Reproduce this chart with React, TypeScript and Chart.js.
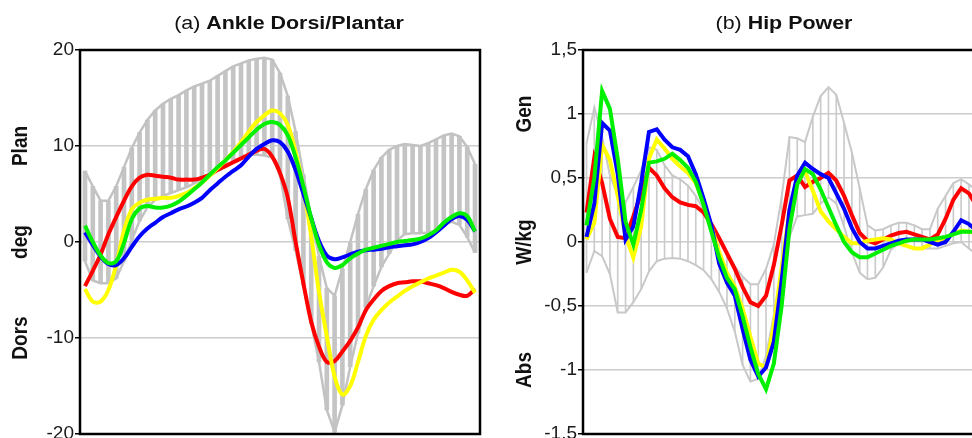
import React, { useEffect, useRef } from "react";
import { Chart, registerables } from "chart.js";

Chart.register(...registerables);

// ---------- data ----------
const GAIT_PCT = [0, 2, 4, 6, 8, 10, 12, 14, 16, 18, 20, 22, 24, 26, 28, 30, 32, 34, 36, 38, 40, 42, 44, 46, 48, 50, 52, 54, 56, 58, 60, 62, 64, 66, 68, 70, 72, 74, 76, 78, 80, 82, 84, 86, 88, 90, 92, 94, 96, 98, 100];

const ANKLE_TICKS = [-20, -10, 0, 10, 20];
const ANKLE_WORD_VALUES = [10, 0, -10];
const ANKLE_WORDS = ["Plan", "deg", "Dors"];

const ANKLE_UPPER = [7.4, 5.8, 4.3, 4.3, 5.8, 7.8, 9.8, 11.4, 12.7, 13.7, 14.4, 14.9, 15.3, 15.8, 16.2, 16.5, 16.8, 17.3, 17.8, 18.3, 18.6, 18.9, 19.1, 19.2, 19.0, 17.6, 15.2, 11.5, 7.0, 2.5, -1.5, -4.8, -5.6, -2.8, 0.0, 2.9, 5.5, 7.5, 8.8, 9.6, 10.0, 10.2, 10.1, 10.0, 10.3, 10.7, 11.1, 11.3, 11.0, 9.9, 8.1];
const ANKLE_LOWER = [-2.0, -4.0, -4.3, -4.3, -3.8, -2.0, 0.2, 2.2, 3.6, 4.4, 4.8, 5.1, 5.4, 5.7, 6.1, 6.5, 7.0, 7.5, 8.0, 8.4, 8.8, 9.1, 9.1, 9.0, 8.8, 7.0, 2.4, -0.9, -4.5, -8.5, -12.5, -17.5, -19.8, -17.0, -13.0, -9.5, -6.8, -4.6, -2.6, -1.2, 0.2, 0.8, 0.9, 0.9, 1.0, 1.2, 1.8, 2.1, 1.8, 0.5, -1.1];
const ANKLE_RED = [-4.6, -3.0, -1.3, 0.8, 2.6, 4.3, 5.8, 6.7, 7.0, 6.9, 6.8, 6.7, 6.5, 6.5, 6.5, 6.7, 7.0, 7.5, 7.9, 8.3, 8.7, 9.1, 9.5, 9.7, 8.9, 7.2, 4.6, 0.0, -4.3, -8.3, -10.9, -12.5, -12.4, -11.4, -10.3, -8.9, -7.1, -6.0, -5.1, -4.6, -4.3, -4.2, -4.1, -4.1, -4.3, -4.5, -4.8, -5.2, -5.5, -5.6, -4.9];
const ANKLE_YELLOW = [-4.9, -6.2, -6.2, -5.0, -2.4, 1.2, 3.4, 4.1, 4.4, 4.5, 4.6, 4.6, 4.8, 5.1, 5.6, 6.2, 6.9, 7.7, 8.5, 9.4, 10.4, 11.5, 12.5, 13.2, 13.7, 13.4, 12.2, 9.4, 5.6, 0.6, -5.2, -9.8, -14.0, -15.9, -15.0, -12.5, -9.8, -8.1, -7.1, -6.3, -5.7, -5.1, -4.6, -4.2, -3.8, -3.5, -3.2, -2.9, -3.1, -4.0, -5.3];
const ANKLE_GREEN = [1.7, 0.0, -1.4, -2.2, -2.0, -0.1, 2.4, 3.5, 3.75, 3.6, 3.6, 3.8, 4.2, 4.8, 5.5, 6.2, 7.0, 7.8, 8.5, 9.3, 10.1, 10.9, 11.7, 12.3, 12.5, 12.2, 11.1, 8.8, 5.8, 2.5, -0.3, -2.1, -2.7, -2.4, -1.7, -1.2, -0.8, -0.6, -0.4, -0.2, 0.0, 0.1, 0.2, 0.35, 0.7, 1.2, 2.0, 2.6, 3.0, 2.7, 1.1];
const ANKLE_BLUE = [1.0, -0.3, -1.5, -2.3, -2.4, -1.7, -0.5, 0.6, 1.4, 2.0, 2.6, 3.0, 3.4, 3.7, 4.1, 4.6, 5.4, 6.1, 6.8, 7.4, 8.0, 8.9, 9.7, 10.2, 10.6, 10.4, 9.4, 7.5, 5.0, 2.5, 0.1, -1.4, -1.8, -1.6, -1.3, -1.0, -0.85, -0.8, -0.7, -0.55, -0.45, -0.35, -0.25, 0.0, 0.4, 1.0, 1.7, 2.4, 2.7, 2.3, 1.1];

const HIP_TICKS = [-1.5, -1, -0.5, 0, 0.5, 1, 1.5];
const HIP_WORD_VALUES = [1, 0, -1];
const HIP_WORDS = ["Gen", "W/kg", "Abs"];

const HIP_UPPER = [0.77, 1.05, 0.82, 0.52, 0.36, 0.31, 0.43, 0.56, 0.74, 0.72, 0.60, 0.52, 0.49, 0.44, 0.36, 0.25, 0.14, 0.03, -0.09, -0.19, -0.27, -0.33, -0.33, -0.21, -0.02, 0.35, 0.82, 0.81, 0.78, 0.98, 1.14, 1.21, 1.15, 0.93, 0.70, 0.42, 0.13, 0.09, 0.10, 0.13, 0.15, 0.15, 0.13, 0.10, 0.10, 0.26, 0.36, 0.46, 0.49, 0.45, 0.40];
const HIP_LOWER = [-0.24, -0.07, -0.11, -0.25, -0.55, -0.55, -0.47, -0.37, -0.23, -0.15, -0.13, -0.125, -0.13, -0.15, -0.18, -0.22, -0.29, -0.39, -0.52, -0.70, -0.96, -1.09, -1.07, -0.89, -0.57, -0.22, 0.04, 0.20, 0.21, 0.22, 0.30, 0.35, 0.30, 0.12, -0.08, -0.24, -0.29, -0.28, -0.20, -0.06, -0.01, -0.03, -0.05, -0.05, -0.05, -0.05, -0.03, -0.01, 0.00, -0.05, -0.10];
const HIP_RED = [0.23, 0.66, 0.46, 0.18, 0.04, 0.03, 0.20, 0.38, 0.58, 0.52, 0.42, 0.35, 0.31, 0.29, 0.28, 0.23, 0.14, 0.03, -0.09, -0.21, -0.35, -0.47, -0.50, -0.42, -0.18, 0.13, 0.48, 0.52, 0.43, 0.47, 0.50, 0.54, 0.48, 0.36, 0.21, 0.07, 0.01, -0.01, 0.02, 0.05, 0.07, 0.08, 0.06, 0.04, 0.02, 0.06, 0.18, 0.33, 0.42, 0.38, 0.28];
const HIP_YELLOW = [0.02, 0.15, 0.76, 0.64, 0.36, 0.05, -0.12, 0.12, 0.65, 0.80, 0.73, 0.65, 0.59, 0.54, 0.46, 0.31, 0.12, -0.08, -0.24, -0.35, -0.52, -0.74, -0.95, -0.98, -0.65, -0.20, 0.25, 0.48, 0.55, 0.40, 0.24, 0.16, 0.10, 0.04, -0.01, -0.01, 0.01, 0.02, 0.03, 0.02, -0.01, -0.03, -0.05, -0.05, -0.02, 0.01, 0.03, 0.06, 0.09, 0.08, 0.07];
const HIP_GREEN = [0.13, 0.50, 1.18, 1.04, 0.65, 0.16, -0.02, 0.25, 0.62, 0.63, 0.65, 0.69, 0.64, 0.58, 0.47, 0.29, 0.08, -0.12, -0.28, -0.37, -0.58, -0.82, -1.03, -1.15, -0.95, -0.50, 0.10, 0.45, 0.57, 0.53, 0.41, 0.27, 0.13, 0.00, -0.08, -0.12, -0.12, -0.09, -0.06, -0.03, -0.01, 0.01, 0.02, 0.02, 0.02, 0.03, 0.04, 0.06, 0.08, 0.08, 0.08];
const HIP_BLUE = [0.04, 0.30, 0.93, 0.87, 0.53, 0.02, 0.12, 0.46, 0.86, 0.88, 0.80, 0.74, 0.72, 0.67, 0.53, 0.34, 0.13, -0.17, -0.32, -0.42, -0.68, -0.92, -1.05, -0.98, -0.78, -0.30, 0.25, 0.52, 0.62, 0.57, 0.53, 0.50, 0.38, 0.26, 0.11, 0.00, -0.05, -0.05, -0.03, -0.01, 0.01, 0.02, 0.02, 0.02, 0.00, -0.02, 0.00, 0.08, 0.17, 0.14, 0.09];

// ---------- styling ----------
const FONT = '"Liberation Sans", Arial, Helvetica, sans-serif';
const RED = "#ff0000";
const YELLOW = "#ffff00";
const GREEN = "#00f000";
const BLUE = "#0000ff";
const TEXT_STRETCH = 1.19;

type PanelSpec = {
  prefix: string;
  title: string;
  titleDx: number;
  ticks: number[];
  yMin: number;
  yMax: number;
  words: string[];
  wordValues: number[];
  wordX: number;
  axisWidth: number;
  padRight: number;
  xMin: number;
  xMax: number;
  upper: number[];
  lower: number[];
  red: number[];
  yellow: number[];
  green: number[];
  blue: number[];
  lineWidth: number;
  tension: number;
  bandColor: string;
  bandWidth: number;
  hatchColor: string;
  hatchWidth: number;
  comma: boolean;
};

function decorPlugin(p: PanelSpec) {
  return {
    id: "decor",
    afterDraw(chart: any) {
      const { ctx, chartArea, scales } = chart;
      ctx.save();
      // frame
      ctx.strokeStyle = "#000";
      ctx.lineWidth = 2.5;
      ctx.strokeRect(
        chartArea.left,
        chartArea.top,
        chartArea.right - chartArea.left,
        chartArea.bottom - chartArea.top
      );
      // title (normal prefix + bold main text), slightly wide lettering
      ctx.fillStyle = "#111";
      ctx.textBaseline = "alphabetic";
      ctx.textAlign = "left";
      const normal = `18px ${FONT}`;
      const bold = `bold 18px ${FONT}`;
      ctx.font = normal;
      const w1 = ctx.measureText(p.prefix).width;
      ctx.font = bold;
      const w2 = ctx.measureText(p.title).width;
      const cx = (chartArea.left + chartArea.right) / 2 + p.titleDx;
      const x0 = cx - ((w1 + w2) * TEXT_STRETCH) / 2;
      ctx.save();
      ctx.translate(x0, 28.5);
      ctx.scale(TEXT_STRETCH, 1);
      ctx.font = normal;
      ctx.fillText(p.prefix, 0, 0);
      ctx.font = bold;
      ctx.fillText(p.title, w1, 0);
      ctx.restore();
      // rotated axis words
      ctx.font = `bold 19px ${FONT}`;
      ctx.textAlign = "center";
      ctx.textBaseline = "middle";
      p.words.forEach((w, i) => {
        const y = scales.y.getPixelForValue(p.wordValues[i]);
        ctx.save();
        ctx.translate(p.wordX, y);
        ctx.scale(1.15, 1);
        ctx.rotate(-Math.PI / 2);
        ctx.fillText(w, 0, 0);
        ctx.restore();
      });
      ctx.restore();
    },
  };
}

function makeConfig(p: PanelSpec): any {
  const pts = (arr: number[]) => GAIT_PCT.map((x, i) => ({ x, y: arr[i] }));
  const line = (label: string, arr: number[], color: string, order: number) => ({
    type: "line",
    label,
    data: pts(arr),
    borderColor: color,
    borderWidth: p.lineWidth,
    pointRadius: 0,
    tension: p.tension,
    fill: false,
    order,
  });
  return {
    type: "line",
    data: {
      datasets: [
        line("Green", p.green, GREEN, 0),
        line("Blue", p.blue, BLUE, 1),
        line("Yellow", p.yellow, YELLOW, 2),
        line("Red", p.red, RED, 3),
        {
          type: "line",
          label: "Upper",
          data: pts(p.upper),
          borderColor: p.bandColor,
          borderWidth: p.bandWidth,
          pointRadius: 0,
          tension: 0,
          fill: false,
          order: 4,
        },
        {
          type: "line",
          label: "Lower",
          data: pts(p.lower),
          borderColor: p.bandColor,
          borderWidth: p.bandWidth,
          pointRadius: 0,
          tension: 0,
          fill: false,
          order: 4,
        },
        {
          type: "bar",
          label: "Range",
          data: GAIT_PCT.map((x, i) => ({ x, y: [p.lower[i], p.upper[i]] })),
          backgroundColor: p.hatchColor,
          borderWidth: 0,
          barThickness: p.hatchWidth,
          grouped: false,
          order: 5,
        },
      ],
    },
    options: {
      responsive: false,
      animation: false,
      events: [],
      layout: { padding: { top: 50, bottom: 4, left: 0, right: p.padRight } },
      plugins: {
        legend: { display: false },
        tooltip: { enabled: false },
        title: { display: false },
      },
      scales: {
        x: {
          type: "linear",
          display: false,
          min: p.xMin,
          max: p.xMax,
          offset: false,
          grid: { display: false, offset: false },
        },
        y: {
          type: "linear",
          min: p.yMin,
          max: p.yMax,
          afterBuildTicks: (scale: any) => {
            scale.ticks = p.ticks.map((value) => ({ value }));
          },
          afterFit: (scale: any) => {
            scale.width = p.axisWidth;
            scale.paddingTop = 0;
            scale.paddingBottom = 0;
          },
          border: { display: false },
          grid: {
            color: "#cccccc",
            lineWidth: 1.5,
            drawTicks: true,
            tickLength: 5,
            tickColor: "#000",
            tickWidth: 1.5,
          },
          ticks: {
            padding: 1,
            color: "#1a1a1a",
            font: { family: FONT, size: 19 },
            callback: (v: any) => (p.comma ? String(v).replace(".", ",") : String(v)),
          },
        },
      },
    },
    plugins: [decorPlugin(p)],
  };
}

const ANKLE_SPEC: PanelSpec = {
  prefix: "(a) ",
  title: "Ankle Dorsi/Plantar",
  titleDx: 9,
  ticks: ANKLE_TICKS,
  yMin: -20,
  yMax: 20,
  words: ANKLE_WORDS,
  wordValues: ANKLE_WORD_VALUES,
  wordX: 21,
  axisWidth: 80,
  padRight: 6,
  xMin: -1.28,
  xMax: 101.28,
  upper: ANKLE_UPPER,
  lower: ANKLE_LOWER,
  red: ANKLE_RED,
  yellow: ANKLE_YELLOW,
  green: ANKLE_GREEN,
  blue: ANKLE_BLUE,
  lineWidth: 4,
  tension: 0.35,
  bandColor: "#c2c2c2",
  bandWidth: 2.5,
  hatchColor: "#c4c4c4",
  hatchWidth: 4,
  comma: false,
};

const HIP_SPEC: PanelSpec = {
  prefix: "(b) ",
  title: "Hip Power",
  titleDx: 1,
  ticks: HIP_TICKS,
  yMin: -1.5,
  yMax: 1.5,
  words: HIP_WORDS,
  wordValues: HIP_WORD_VALUES,
  wordX: 38.5,
  axisWidth: 97,
  padRight: 3,
  xMin: -0.9,
  xMax: 101.6,
  upper: HIP_UPPER,
  lower: HIP_LOWER,
  red: HIP_RED,
  yellow: HIP_YELLOW,
  green: HIP_GREEN,
  blue: HIP_BLUE,
  lineWidth: 4,
  tension: 0,
  bandColor: "#c8c8c8",
  bandWidth: 2,
  hatchColor: "#cbcbcb",
  hatchWidth: 1,
  comma: true,
};

function Panel({ spec, left, width }: { spec: PanelSpec; left: number; width: number }) {
  const ref = useRef<HTMLCanvasElement | null>(null);
  useEffect(() => {
    if (!ref.current) return;
    const chart = new Chart(ref.current, makeConfig(spec));
    return () => chart.destroy();
  }, [spec]);
  return (
    <canvas
      ref={ref}
      width={width}
      height={438}
      style={{ position: "absolute", left, top: 0, width, height: 438, display: "block" }}
    />
  );
}

export default function App() {
  return (
    <div
      style={{
        position: "fixed",
        left: 0,
        top: 0,
        width: 972,
        height: 438,
        overflow: "hidden",
        background: "#fff",
      }}
    >
      <Panel spec={ANKLE_SPEC} left={0} width={486} />
      <Panel spec={HIP_SPEC} left={486} width={500} />
    </div>
  );
}
